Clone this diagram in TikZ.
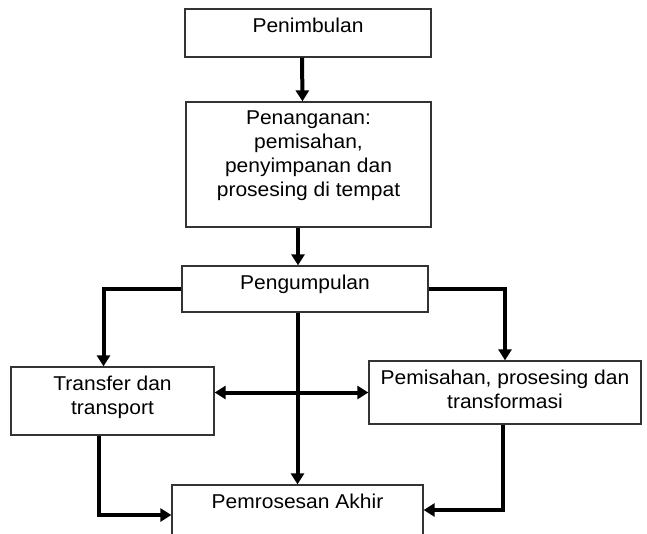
\documentclass[tikz,border=0pt]{standalone}
\usepackage{fontspec}
\setmainfont[FakeStretch=1.05]{Liberation Sans}
\usetikzlibrary{arrows.meta,positioning}
\begin{document}
\begin{tikzpicture}[x=1pt, y=-1pt,
    box/.style={draw=black!80, line width=1.3pt, inner sep=0pt},
    txt/.style={inner sep=0pt, align=center, font=\fontsize{20pt}{24pt}\selectfont},
    arr/.style={line width=4pt, -{Triangle[length=11pt, width=13pt]}},
    darr/.style={line width=4pt, {Triangle[length=11pt, width=13pt]}-{Triangle[length=11pt, width=13pt]}}]
      \useasboundingbox (0,0) rectangle (647,533);
      % boxes
      \node (pen) at (308,33) [box, minimum width=246pt, minimum height=48pt] {};
      \node (han) at (308.5,164.5) [box, minimum width=245pt, minimum height=125pt] {};
      \node (kum) at (305,289) [box, minimum width=246pt, minimum height=46pt] {};
      \node (trans) at (112.5,401) [box, minimum width=203pt, minimum height=68pt] {};
      \node (pisah) at (505,392.5) [box, minimum width=272pt, minimum height=63pt] {};
      \node (akhir) at (297.5,515) [box, minimum width=251pt, minimum height=60pt] {};
      % texts
      \node (penT) [txt, below=9.5pt of pen.north] {Penimbulan};
      \node (hanT) [txt, below=9.5pt of han.north] {Penanganan:\\ pemisahan,\\ penyimpanan dan\\ prosesing di tempat};
      \node (kumT) [txt, below=9.5pt of kum.north] {Pengumpulan};
      \node (transT) [txt, below=9.5pt of trans.north] {Transfer dan\\ transport};
      \node (pisahT) [txt, below=9.5pt of pisah.north] {Pemisahan, prosesing dan\\ transformasi};
      \node (akhirT) [txt, below=9.5pt of akhir.north] {Pemrosesan Akhir};
      % connectors
      \draw[arr] ([xshift=-6pt]pen.south) -- ([xshift=-6pt]han.north);
      \draw[arr] ([xshift=-10.5pt]han.south) -- ([xshift=-7pt]kum.north);
      \draw[arr] (kum.west) -| ([xshift=-9pt]trans.north);
      \draw[arr] (kum.east) -| (pisah.north);
      \draw[arr] (akhir.north |- kum.south) -- (akhir.north);
      \draw[darr] (trans.east |- pisah.west) -- (pisah.west);
      \draw[arr] ([xshift=-14pt]trans.south) |- (akhir.west);
      \draw[arr] ([xshift=-2pt]pisah.south) |- ([yshift=5pt]akhir.east);
    \end{tikzpicture}
\end{document}
